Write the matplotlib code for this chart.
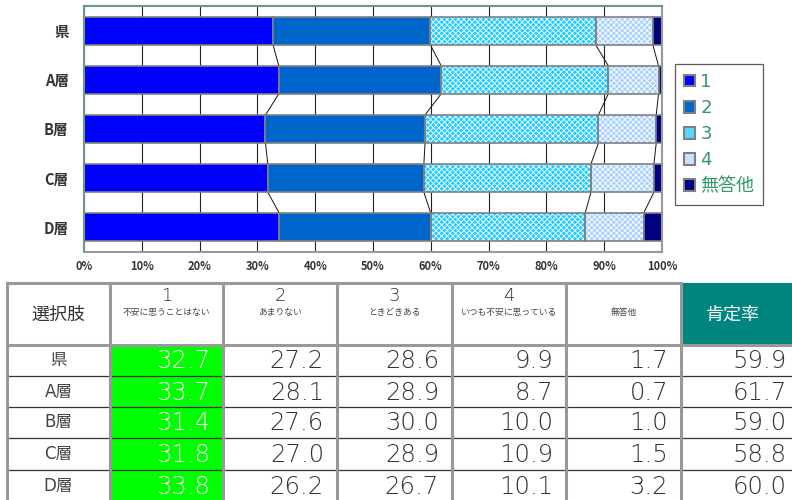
import matplotlib
matplotlib.use('Agg')
import matplotlib.pyplot as plt
from matplotlib.patches import Rectangle, Patch
import numpy as np

plt.rcParams['font.family'] = ['DejaVu Sans', 'Noto Sans CJK JP']
plt.rcParams['hatch.linewidth'] = 0.6

# ---------------- data ----------------
categories = ['県', 'A層', 'B層', 'C層', 'D層']
series_names = ['1', '2', '3', '4', '無答他']
s1 = [32.7, 33.7, 31.4, 31.8, 33.8]
s2 = [27.2, 28.1, 27.6, 27.0, 26.2]
s3 = [28.6, 28.9, 30.0, 28.9, 26.7]
s4 = [9.9, 8.7, 10.0, 10.9, 10.1]
s5 = [1.7, 0.7, 1.0, 1.5, 3.2]
positive = [59.9, 61.7, 59.0, 58.8, 60.0]
xticks = [0, 10, 20, 30, 40, 50, 60, 70, 80, 90, 100]
xtick_labels = ['0%', '10%', '20%', '30%', '40%', '50%', '60%', '70%', '80%', '90%', '100%']
header_first = '選択肢'
header_nums = ['1', '2', '3', '4', '']
header_subs = ['不安に思うことはない', 'あまりない', 'ときどきある', 'いつも不安に思っている', '無答他']
header_last = '肯定率'

series = [s1, s2, s3, s4, s5]
colors = ['#0000FF', '#0066CC', '#22CCFF', '#A8D0FF', '#000080']
hatches = [None, None, 'xxxxxx', 'xxxxxx', None]
legend_colors = ['#0000FF', '#0066CC', '#55D8FF', '#C8E2FF', '#000080']

W, H = 792, 500
fig = plt.figure(figsize=(W / 100, H / 100), dpi=100)

# ---------------- table (pixel coordinates axes) ----------------
tax = fig.add_axes([0, 0, 1, 1])
tax.set_xlim(0, W)
tax.set_ylim(H, 0)
tax.axis('off')

col_edges = [7, 110, 223, 337, 452, 566, 681, 800]
row_edges = [283, 345, 376, 407, 438, 470, 502]
grid_gray = '#999999'
txt_col = '#333333'
cjk = ['Noto Sans CJK JP', 'DejaVu Sans']
num_font = ['DejaVu Sans', 'Noto Sans CJK JP']

# teal header cell
tax.add_patch(Rectangle((col_edges[6], row_edges[0]), col_edges[7] - col_edges[6],
                        row_edges[1] - row_edges[0], facecolor='#00857F', edgecolor='none', zorder=1))
# green column
tax.add_patch(Rectangle((col_edges[1], row_edges[1]), col_edges[2] - col_edges[1],
                        row_edges[-1] - row_edges[1], facecolor='#00FF00', edgecolor='none', zorder=1))

# thin row separators in data area
for yy in row_edges[2:-1]:
    tax.plot([col_edges[0], col_edges[-1]], [yy, yy], color='#333333', lw=0.9, zorder=2)
# thick gray lines
tax.plot([col_edges[0], col_edges[6]], [row_edges[0], row_edges[0]], color=grid_gray, lw=2.2, zorder=3)
tax.plot([col_edges[0], col_edges[-1]], [row_edges[1], row_edges[1]], color=grid_gray, lw=2.2, zorder=3)
for i, xx in enumerate(col_edges[:-1]):
    tax.plot([xx, xx], [row_edges[0], row_edges[-1]], color=grid_gray, lw=2.2, zorder=3)

# header texts
hy = (row_edges[0] + row_edges[1]) / 2
tax.text((col_edges[0] + col_edges[1]) / 2, hy + 1, header_first, ha='center', va='center',
         fontsize=13, color=txt_col, family=cjk, zorder=4)
for j in range(5):
    cx = (col_edges[j + 1] + col_edges[j + 2]) / 2
    if header_nums[j]:
        tax.text(cx, 296, header_nums[j], ha='center', va='center', fontsize=13,
                 color=txt_col, family=num_font, weight='light', zorder=4)
    tax.text(cx, 312.5, header_subs[j], ha='center', va='center', fontsize=6.3,
             color='#444444', family=cjk, zorder=4)
tax.text(733, hy + 1, header_last, ha='center', va='center', fontsize=13,
         color='white', family=cjk, zorder=4)

# data rows
for i, cat in enumerate(categories):
    cy = (row_edges[i + 1] + row_edges[i + 2]) / 2
    tax.text((col_edges[0] + col_edges[1]) / 2, cy, cat, ha='center', va='center',
             fontsize=12, color='#444444', family=num_font, zorder=4)
    vals = [s[i] for s in series] + [positive[i]]
    for j, v in enumerate(vals):
        c = 'white' if j == 0 else txt_col
        tax.text(col_edges[j + 2] - 13, cy + 1, f'{v:.1f}', ha='right', va='center',
                 fontsize=17.5, color=c, family=num_font, weight='light', zorder=4)

# ---------------- bar chart ----------------
ax = fig.add_axes([84 / W, 1 - 252 / H, (662 - 84) / W, (252 - 6) / H])
y = np.arange(len(categories))
h = 0.57
left = np.zeros(len(categories))
cums = []
for k, vals in enumerate(series):
    vals = np.array(vals)
    if hatches[k]:
        ax.barh(y, vals, left=left, height=h, color=colors[k], edgecolor='white',
                linewidth=0, hatch=hatches[k], zorder=2)
        ax.barh(y, vals, left=left, height=h, fill=False, edgecolor='#808080',
                linewidth=1.2, zorder=2.5)
    else:
        ax.barh(y, vals, left=left, height=h, color=colors[k], edgecolor='#808080',
                linewidth=1.2, zorder=2.5)
    left = left + vals
    cums.append(left.copy())

# series lines
for k in range(4):
    c = cums[k]
    for i in range(len(categories) - 1):
        ax.plot([c[i], c[i + 1]], [i + h / 2, i + 1 - h / 2], color='#111111', lw=0.7, zorder=1.5)

ax.set_xlim(0, 100)
ax.set_ylim(len(categories) - 0.5, -0.5)
ax.set_xticks(xticks)
ax.set_xticklabels(xtick_labels)
ax.set_yticks(y)
ax.set_yticklabels(categories)
ax.tick_params(axis='both', length=0)
ax.tick_params(axis='x', pad=6, labelsize=8, labelcolor='#333333')
ax.tick_params(axis='y', pad=11, labelsize=10.5, labelcolor='#333333')
for lab in ax.get_xticklabels():
    lab.set_family(['Noto Sans CJK JP'])
    lab.set_weight('bold')
for lab in ax.get_yticklabels():
    lab.set_family(['Noto Sans CJK JP'])
    lab.set_weight('bold')
ax.xaxis.grid(True, color='#222222', lw=0.8, zorder=0.5)
ax.set_axisbelow(True)
ax.spines['top'].set_color('#6a9a80')
ax.spines['left'].set_color('#6a9a80')
ax.spines['right'].set_color('#999999')
ax.spines['bottom'].set_color('#999999')
for sp in ax.spines.values():
    sp.set_linewidth(1.5)

# legend
handles = [Patch(facecolor=legend_colors[k], edgecolor='#808080', linewidth=1.5) for k in range(5)]
leg = fig.legend(handles, series_names, loc='upper left', bbox_to_anchor=(675 / W, 1 - 64 / H),
                 frameon=True, fancybox=False, handlelength=0.6, handleheight=0.6,
                 handletextpad=0.3, labelspacing=0.45, borderpad=0.5, borderaxespad=0,
                 prop={'family': ['DejaVu Sans', 'Noto Sans CJK JP'], 'size': 13})
leg.get_frame().set_edgecolor('#333333')
leg.get_frame().set_linewidth(0.9)
for t in leg.get_texts():
    t.set_color('#339966')

fig.savefig('out.png', dpi=100)
